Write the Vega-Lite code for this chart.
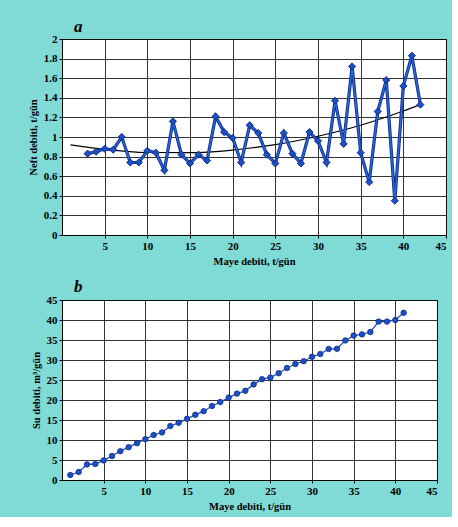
{
  "$schema": "https://vega.github.io/schema/vega-lite/v6.json",
  "background": "#80dad6",
  "padding": {"left": 27, "top": 17, "right": 5, "bottom": 5},
  "spacing": 10,
  "datasets": {
    "oil": [
      {"x": 3, "y": 0.83}, {"x": 4, "y": 0.85}, {"x": 5, "y": 0.88}, {"x": 6, "y": 0.87},
      {"x": 7, "y": 1.0}, {"x": 8, "y": 0.74}, {"x": 9, "y": 0.74}, {"x": 10, "y": 0.86},
      {"x": 11, "y": 0.84}, {"x": 12, "y": 0.66}, {"x": 13, "y": 1.16}, {"x": 14, "y": 0.82},
      {"x": 15, "y": 0.73}, {"x": 16, "y": 0.82}, {"x": 17, "y": 0.76}, {"x": 18, "y": 1.21},
      {"x": 19, "y": 1.05}, {"x": 20, "y": 0.99}, {"x": 21, "y": 0.74}, {"x": 22, "y": 1.12},
      {"x": 23, "y": 1.04}, {"x": 24, "y": 0.82}, {"x": 25, "y": 0.73}, {"x": 26, "y": 1.04},
      {"x": 27, "y": 0.83}, {"x": 28, "y": 0.73}, {"x": 29, "y": 1.05}, {"x": 30, "y": 0.96},
      {"x": 31, "y": 0.74}, {"x": 32, "y": 1.37}, {"x": 33, "y": 0.93}, {"x": 34, "y": 1.72},
      {"x": 35, "y": 0.84}, {"x": 36, "y": 0.54}, {"x": 37, "y": 1.26}, {"x": 38, "y": 1.58},
      {"x": 39, "y": 0.35}, {"x": 40, "y": 1.52}, {"x": 41, "y": 1.83}, {"x": 42, "y": 1.33}
    ],
    "trend": [
      {"x": 1, "y": 0.92}, {"x": 5, "y": 0.874}, {"x": 10, "y": 0.842}, {"x": 15, "y": 0.84},
      {"x": 20, "y": 0.867}, {"x": 25, "y": 0.922}, {"x": 30, "y": 1.008}, {"x": 35, "y": 1.12},
      {"x": 40, "y": 1.265}, {"x": 42, "y": 1.33}
    ],
    "water": [
      {"x": 1, "y": 1.25}, {"x": 2, "y": 2.0}, {"x": 3, "y": 3.9}, {"x": 4, "y": 4.0},
      {"x": 5, "y": 4.9}, {"x": 6, "y": 6.0}, {"x": 7, "y": 7.2}, {"x": 8, "y": 8.2},
      {"x": 9, "y": 9.2}, {"x": 10, "y": 10.2}, {"x": 11, "y": 11.25}, {"x": 12, "y": 11.9},
      {"x": 13, "y": 13.5}, {"x": 14, "y": 14.3}, {"x": 15, "y": 15.3}, {"x": 16, "y": 16.3},
      {"x": 17, "y": 17.2}, {"x": 18, "y": 18.5}, {"x": 19, "y": 19.5}, {"x": 20, "y": 20.6},
      {"x": 21, "y": 21.6}, {"x": 22, "y": 22.3}, {"x": 23, "y": 23.9}, {"x": 24, "y": 25.2},
      {"x": 25, "y": 25.6}, {"x": 26, "y": 26.7}, {"x": 27, "y": 28.0}, {"x": 28, "y": 29.0},
      {"x": 29, "y": 29.7}, {"x": 30, "y": 30.8}, {"x": 31, "y": 31.5}, {"x": 32, "y": 32.75},
      {"x": 33, "y": 32.8}, {"x": 34, "y": 34.9}, {"x": 35, "y": 36.1}, {"x": 36, "y": 36.4},
      {"x": 37, "y": 37.0}, {"x": 38, "y": 39.6}, {"x": 39, "y": 39.6}, {"x": 40, "y": 40.0},
      {"x": 41, "y": 41.8}
    ]
  },
  "config": {
    "font": "Liberation Serif",
    "view": {"fill": "white", "stroke": "black", "strokeWidth": 1},
    "axis": {
      "labelFont": "Liberation Serif", "labelFontSize": 11, "labelColor": "black", "labelFontWeight": "bold",
      "labelOverlap": false,
      "titleFont": "Liberation Serif", "titleFontSize": 10.5, "titleFontWeight": "bold", "titleColor": "black",
      "domainColor": "black", "tickColor": "black", "tickSize": 3, "labelPadding": 2,
      "gridColor": "#111111", "gridOpacity": 0.85, "gridWidth": 1, "titlePadding": 5
    },
    "title": {"font": "Liberation Serif", "fontSize": 17, "fontStyle": "italic", "fontWeight": "bold", "anchor": "start", "frame": "group", "color": "black"}
  },
  "vconcat": [
    {
      "width": 384,
      "height": 196,
      "title": {"text": "a", "dx": 12, "offset": -3},
      "encoding": {
        "x": {"field": "x", "type": "quantitative", "scale": {"domain": [0, 45], "nice": false},
              "axis": {"values": [5, 10, 15, 20, 25, 30, 35, 40, 45], "tickCount": 20, "title": "Maye debiti, t/gün"}},
        "y": {"field": "y", "type": "quantitative", "scale": {"domain": [0, 2], "nice": false},
              "axis": {"values": [0, 0.2, 0.4, 0.6, 0.8, 1, 1.2, 1.4, 1.6, 1.8, 2], "format": "~g", "tickCount": 30, "title": "Neft debiti, t/gün"}}
      },
      "layer": [
        {
          "data": {"name": "trend"},
          "mark": {"type": "line", "color": "black", "strokeWidth": 1.2, "interpolate": "monotone"}
        },
        {
          "data": {"name": "oil"},
          "mark": {"type": "line", "color": "#0d2d8a", "strokeWidth": 3.2}
        },
        {
          "data": {"name": "oil"},
          "mark": {"type": "line", "color": "#2a66dc", "strokeWidth": 1.5,
                   "point": {"shape": "diamond", "size": 50, "filled": true, "color": "#1f4fc4", "stroke": "#0d2d8a", "strokeWidth": 1}}
        }
      ]
    },
    {
      "width": 375,
      "height": 180,
      "title": {"text": "b", "dx": 12, "offset": -2},
      "data": {"name": "water"},
      "mark": {"type": "line", "color": "#1f4fc4", "strokeWidth": 1.3,
               "point": {"shape": "circle", "size": 30, "filled": true, "color": "#1f4fc4", "stroke": "#0d2d8a", "strokeWidth": 0.8}},
      "encoding": {
        "x": {"field": "x", "type": "quantitative", "scale": {"domain": [0, 45], "nice": false},
              "axis": {"values": [5, 10, 15, 20, 25, 30, 35, 40, 45], "tickCount": 20, "title": "Maye debiti, t/gün"}},
        "y": {"field": "y", "type": "quantitative", "scale": {"domain": [0, 45], "nice": false},
              "axis": {"values": [0, 5, 10, 15, 20, 25, 30, 35, 40, 45], "tickCount": 20, "title": "Su debiti, m³/gün"}}
      }
    }
  ]
}
